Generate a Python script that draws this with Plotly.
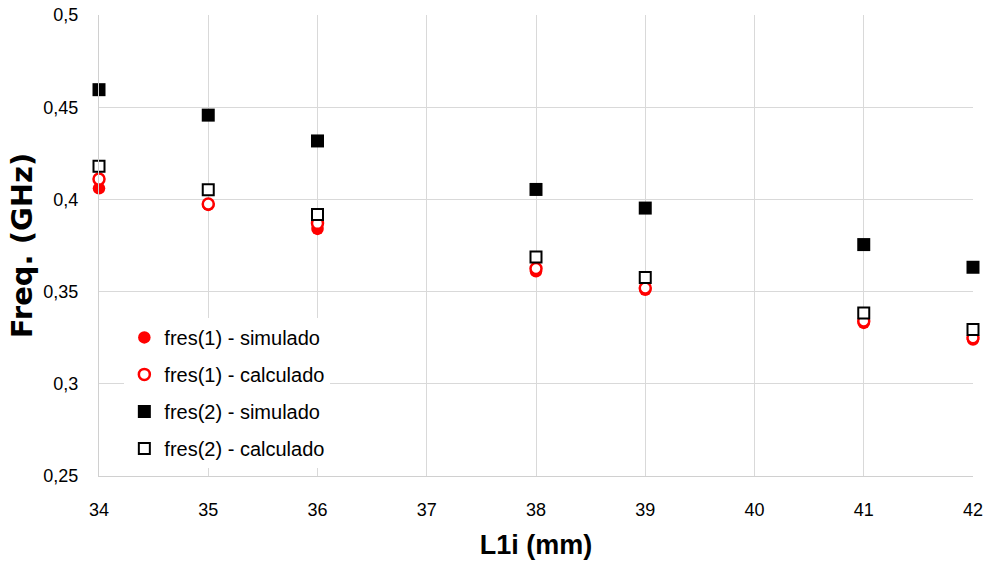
import plotly.graph_objects as go

L1i = [34, 35, 36, 38, 39, 41, 42]
fres1_sim = [0.406, 0.397, 0.384, 0.361, 0.351, 0.333, 0.324]
fres1_calc = [0.411, 0.3975, 0.387, 0.3625, 0.352, 0.334, 0.325]
fres2_sim = [0.4595, 0.4457, 0.4317, 0.4054, 0.3953, 0.3755, 0.3632]
fres2_calc = [0.418, 0.4053, 0.3918, 0.3687, 0.3577, 0.3384, 0.3295]

x_ticks = [34, 35, 36, 37, 38, 39, 40, 41, 42]
y_ticks = [0.25, 0.3, 0.35, 0.4, 0.45, 0.5]

fig = go.Figure()
fig.add_trace(go.Scatter(x=L1i, y=fres1_sim, mode="markers", name="fres(1) - simulado",
                         legendgroup="a", cliponaxis=False,
                         marker=dict(symbol="circle", size=12.5, color="#ff0000",
                                     line=dict(width=0))))
fig.add_trace(go.Scatter(x=L1i, y=fres1_calc, mode="markers", name="fres(1) - calculado",
                         legendgroup="b", cliponaxis=False,
                         marker=dict(symbol="circle", size=11, color="#ffffff",
                                     line=dict(width=2.5, color="#ff0000"))))
fig.add_trace(go.Scatter(x=L1i, y=fres2_sim, mode="markers", name="fres(2) - simulado",
                         legendgroup="c", cliponaxis=False,
                         marker=dict(symbol="square", size=13, color="#000000",
                                     line=dict(width=0))))
fig.add_trace(go.Scatter(x=L1i, y=fres2_calc, mode="markers", name="fres(2) - calculado",
                         legendgroup="d", cliponaxis=False,
                         marker=dict(symbol="square", size=11, color="#ffffff",
                                     line=dict(width=2, color="#000000"))))

fig.update_layout(
    width=989, height=570,
    margin=dict(l=99, r=16, t=15, b=94),
    paper_bgcolor="white", plot_bgcolor="white",
    separators=", ",
    font=dict(family="Liberation Sans, Arial, sans-serif", color="#000000"),
    showlegend=True,
    legend=dict(x=0.029, y=0.343, xanchor="left", yanchor="top",
                bgcolor="white", borderwidth=0,
                font=dict(size=20, family="Liberation Sans, Arial, sans-serif"),
                tracegroupgap=8, itemsizing="trace"),
    xaxis=dict(range=[34, 42], tickvals=x_ticks, showgrid=True, gridcolor="#d9d9d9",
               gridwidth=1, showline=True, linecolor="#d0d0d0", linewidth=1,
               zeroline=False, ticks="", ticklabelstandoff=17, automargin=False,
               tickfont=dict(size=18, color="#000000"),
               title=dict(text="<b>L1i (mm)</b>", standoff=16,
                          font=dict(size=27, family="Liberation Sans, Arial, sans-serif"))),
    yaxis=dict(range=[0.25, 0.5], tickvals=y_ticks, showgrid=True, gridcolor="#d9d9d9",
               gridwidth=1, showline=True, linecolor="#d0d0d0", linewidth=1,
               zeroline=False, ticks="", ticklabelstandoff=16, automargin=False,
               tickfont=dict(size=18, color="#000000"),
               title=dict(text="<b>Freq. (GHz)</b>", standoff=2,
                          font=dict(size=29, family="DejaVu Sans, sans-serif"))),
)

fig.write_html("out.html")
